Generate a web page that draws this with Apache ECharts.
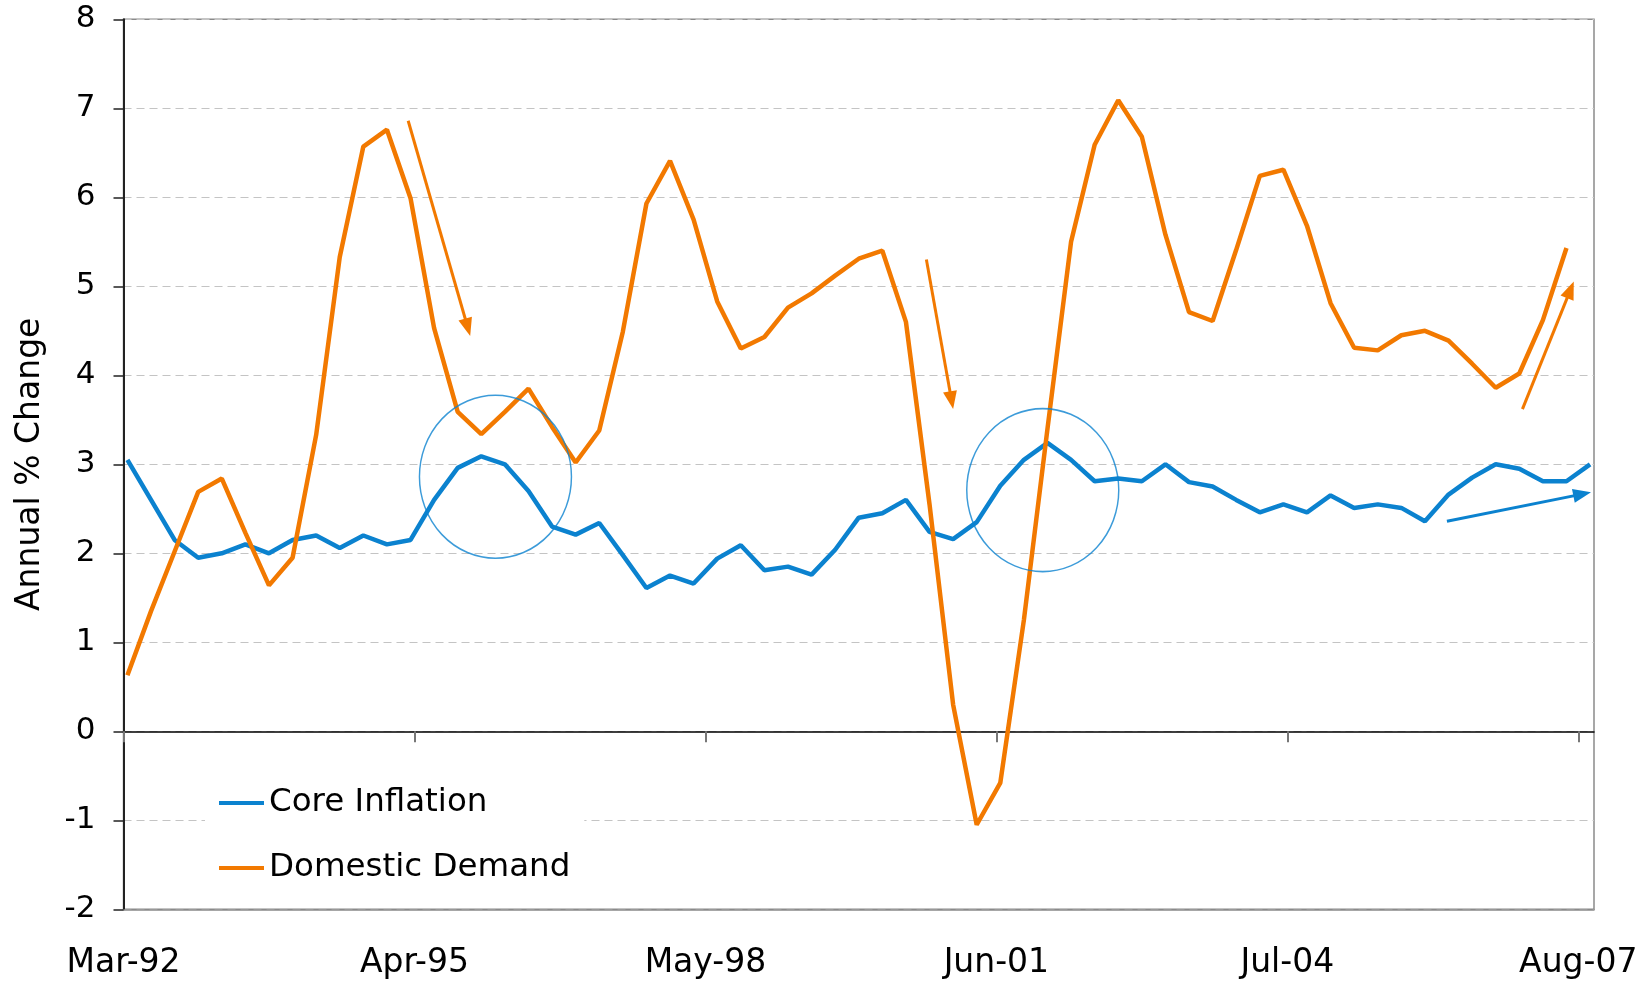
<!DOCTYPE html>
<html><head><meta charset="utf-8">
<script src="https://cdn.jsdelivr.net/npm/echarts@6/dist/echarts.min.js"></script>
<style>html,body{margin:0;padding:0;background:#fff}#c{width:1652px;height:981px}</style>
</head><body><div id="c"></div>
<script>
// Quarterly observations
const quarters = [
  'Mar-92','Jun-92','Sep-92','Dec-92','Mar-93','Jun-93','Sep-93','Dec-93',
  'Mar-94','Jun-94','Sep-94','Dec-94','Mar-95','Jun-95','Sep-95','Dec-95',
  'Mar-96','Jun-96','Sep-96','Dec-96','Mar-97','Jun-97','Sep-97','Dec-97',
  'Mar-98','Jun-98','Sep-98','Dec-98','Mar-99','Jun-99','Sep-99','Dec-99',
  'Mar-00','Jun-00','Sep-00','Dec-00','Mar-01','Jun-01','Sep-01','Dec-01',
  'Mar-02','Jun-02','Sep-02','Dec-02','Mar-03','Jun-03','Sep-03','Dec-03',
  'Mar-04','Jun-04','Sep-04','Dec-04','Mar-05','Jun-05','Sep-05','Dec-05',
  'Mar-06','Jun-06','Sep-06','Dec-06','Mar-07','Jun-07','Sep-07'
];
const coreInflation = [
  3.05,2.60,2.15,1.95,2.00,2.10,2.00,2.15,2.20,2.06,2.20,2.10,2.15,2.60,2.96,3.09,
  3.00,2.70,2.30,2.21,2.34,1.98,1.61,1.75,1.66,1.94,2.09,1.81,1.85,1.76,2.04,2.40,
  2.45,2.60,2.24,2.16,2.35,2.76,3.05,3.24,3.05,2.81,2.84,2.81,3.00,2.80,2.75,2.60,
  2.46,2.55,2.46,2.65,2.51,2.55,2.51,2.36,2.66,2.85,3.00,2.95,2.81,2.81,3.00
];
const domesticDemand = [
  0.63,1.35,2.02,2.69,2.84,2.23,1.64,1.95,3.33,5.33,6.57,6.76,5.99,4.53,3.59,3.34,
  3.59,3.85,3.42,3.02,3.38,4.49,5.93,6.41,5.75,4.83,4.30,4.43,4.76,4.92,5.12,5.31,
  5.40,4.60,2.55,0.30,-1.05,-0.58,1.25,3.40,5.50,6.59,7.09,6.68,5.58,4.71,4.61,5.41,
  6.24,6.31,5.68,4.81,4.31,4.28,4.45,4.50,4.39,4.13,3.86,4.02,4.62,5.43
];
const tickLabels = ['Mar-92','Apr-95','May-98','Jun-01','Jul-04','Aug-07'];
const seriesNames = ['Core Inflation','Domestic Demand'];
// Annotations in data space: [months since Mar-92, value]
const circleCentres = [[47.3, 2.86], [116.9, 2.71]];
const orangeArrows = [[36.2, 6.86, 43.77, 4.54], [102.1, 5.30, 105.3, 3.72], [177.9, 3.62, 184.0, 4.96]];
const blueArrows = [[168.3, 2.36, 185.5, 2.665]];

const MONTHS = {Jan:0,Feb:1,Mar:2,Apr:3,May:4,Jun:5,Jul:6,Aug:7,Sep:8,Oct:9,Nov:10,Dec:11};
function monthIndex(lbl) {
  const p = lbl.split('-'); const yy = +p[1];
  const year = yy < 50 ? 2000 + yy : 1900 + yy;
  return (year - 1992) * 12 + MONTHS[p[0]] - 2;
}
const pairs = (vals) => vals.map((v, i) => [monthIndex(quarters[i]) + 0.5, v]);
const arrowLines = (arr) => arr.map(a => [{coord: [a[0], a[1]]}, {coord: [a[2], a[3]]}]);
const tickPositions = tickLabels.map(monthIndex);

const BLUE = '#0B82CF', ORANGE = '#F27900';
const FONT = '"DejaVu Sans", Verdana, sans-serif';

const chart = echarts.init(document.getElementById('c'), null, {renderer: 'canvas'});
const xCommon = {type: 'value', min: 0, max: 187, splitLine: {show: false}};
chart.setOption({
  animation: false,
  backgroundColor: '#fff',
  grid: {left: 123.5, right: 58, top: 19.3, bottom: 71.7, show: true, borderColor: '#8a8a8a', borderWidth: 1.5, backgroundColor: 'transparent'},
  legend: {
    data: seriesNames.map(n => ({name: n, icon: 'rect'})),
    orient: 'vertical', left: 205, top: 773,
    itemWidth: 45, itemHeight: 4, itemGap: 29,
    padding: [12, 14, 12, 14],
    backgroundColor: '#fff',
    textStyle: {fontFamily: FONT, fontSize: 32.5, color: '#000', lineHeight: 36},
    selectedMode: false
  },
  xAxis: [
    Object.assign({}, xCommon, {
      axisLine: {onZero: true, lineStyle: {color: '#000', width: 1.5}},
      axisTick: {show: true, length: 11, customValues: tickPositions, lineStyle: {color: '#777', width: 2}},
      axisLabel: {show: false}
    }),
    Object.assign({}, xCommon, {
      position: 'bottom',
      axisLine: {onZero: false, lineStyle: {color: '#8a8a8a', width: 1.5}},
      axisTick: {show: false},
      axisLabel: {
        fontFamily: FONT, fontSize: 33, color: '#000', margin: 38,
        customValues: tickPositions,
        formatter: v => tickLabels[tickPositions.indexOf(Math.round(v))] || ''
      }
    })
  ],
  yAxis: {
    type: 'value', min: -2, max: 8, interval: 1,
    name: 'Annual % Change', nameLocation: 'middle', nameGap: 77, nameRotate: 90,
    nameTextStyle: {fontFamily: FONT, fontSize: 33, color: '#000'},
    axisLine: {show: true, onZero: false, lineStyle: {color: '#222', width: 2}},
    axisTick: {show: true, length: 10, lineStyle: {color: '#222', width: 1.5}},
    axisLabel: {fontFamily: FONT, fontSize: 31, color: '#000', margin: 28},
    splitLine: {show: true, lineStyle: {color: '#c4c4c4', width: 1.2, type: [8, 5]}}
  },
  series: [
    {
      name: seriesNames[0], type: 'line', data: pairs(coreInflation),
      showSymbol: false, symbol: 'none', color: BLUE,
      lineStyle: {color: BLUE, width: 4.5}, z: 3,
      markLine: {
        silent: true, symbol: ['none', 'triangle'], symbolSize: [14, 18],
        label: {show: false}, lineStyle: {type: 'solid', color: BLUE, width: 3},
        data: arrowLines(blueArrows)
      }
    },
    {
      name: seriesNames[1], type: 'line', data: pairs(domesticDemand),
      showSymbol: false, symbol: 'none', color: ORANGE,
      lineStyle: {color: ORANGE, width: 4.5}, z: 4,
      markLine: {
        silent: true, symbol: ['none', 'triangle'], symbolSize: [14, 18],
        label: {show: false}, lineStyle: {type: 'solid', color: ORANGE, width: 3},
        data: arrowLines(orangeArrows)
      }
    },
    {
      name: 'circles', type: 'scatter', data: circleCentres, silent: true,
      symbol: 'circle', symbolSize: [152, 163], z: 5,
      itemStyle: {color: 'rgba(0,0,0,0)', borderColor: BLUE, borderWidth: 1.5}
    }
  ]
});
</script></body></html>
